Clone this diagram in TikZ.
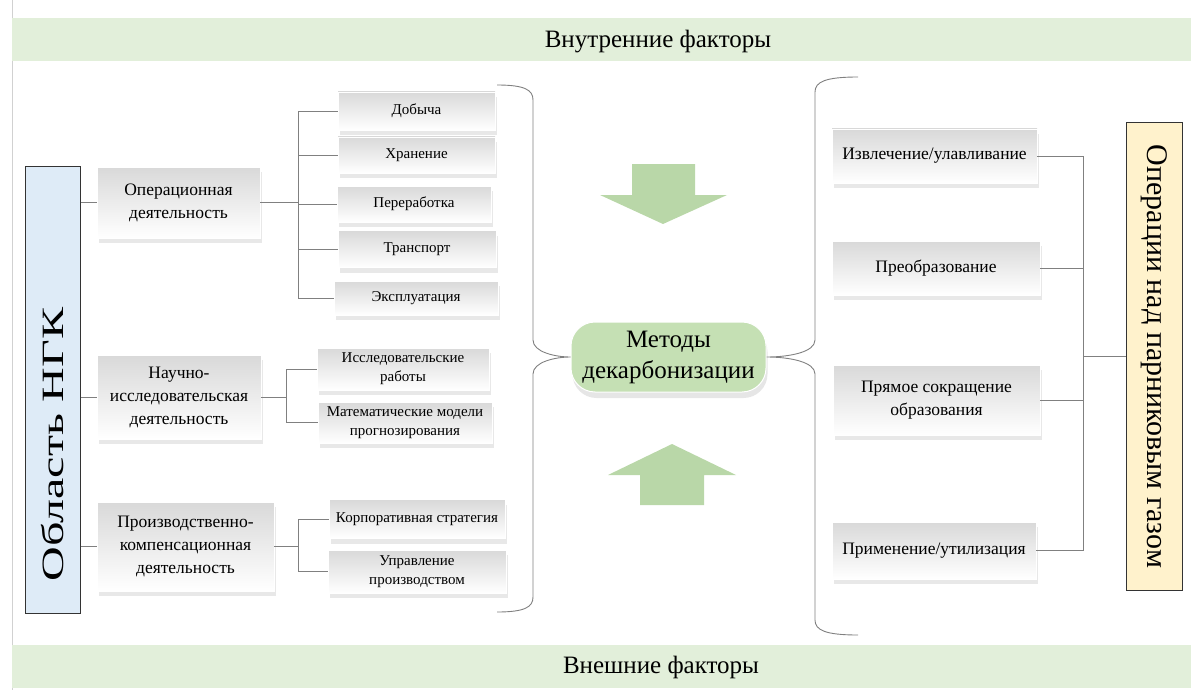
\documentclass[tikz,border=0pt]{standalone}
\usepackage{fontspec}
\setmainfont{Liberation Serif}
\usepackage{tikz}
\usetikzlibrary{shadows}
\definecolor{bandgreen}{HTML}{E2EFDA}
\definecolor{methgreen}{HTML}{C5E0B4}
\definecolor{arrgreen}{HTML}{B9D7A8}
\definecolor{areablue}{HTML}{DEEBF7}
\definecolor{gasyellow}{HTML}{FFF2CC}
\definecolor{linegray}{HTML}{808080}

\begin{document}
\begin{tikzpicture}[x=1pt, y=-1pt,
    box/.style={top color=black!15, bottom color=white, draw=white, line width=0.8pt,
        drop shadow={opacity=0.18, shadow xshift=1.5pt, shadow yshift=-5pt},
        align=center, inner sep=2pt},
    leaf/.style={box, font=\fontsize{15}{19}\selectfont},
    mid/.style={box, font=\fontsize{17.5}{23}\selectfont},
    side/.style={draw=black!80, line width=1pt, inner sep=0pt},
    link/.style={draw=linegray, line width=0.8pt},
    elbow/.style={to path={|- (\tikztotarget)}}]
    \useasboundingbox (0,0) rectangle (1191,690);

    % frame and bands
    \draw[black!18, line width=1pt] (12,0) -- (12,690);
    \fill[bandgreen] (12,18) rectangle (1191,61);
    \fill[bandgreen] (12,645) rectangle (1191,688);
    \node[font=\fontsize{25}{30}\selectfont] (top) at (658,42) {Внутренние факторы};
    \node[font=\fontsize{25}{30}\selectfont] (bot) at (661,667) {Внешние факторы};

    % left side
    \node[side, fill=areablue, minimum width=55pt, minimum height=447pt] (a) at (52.5,389.5) {};
    \node[rotate=90, font=\fontsize{31}{36}\selectfont] (at) at ([yshift=-55pt]a.center) {\scalebox{1.55}[1]{Область НГК}};

    \node[mid, minimum width=163pt, minimum height=71pt] (b0) at (178.5,202.5) {Операционная\\деятельность};
    \node[mid, minimum width=164pt, minimum height=84pt] (b1) at (179,397) {Научно-\\исследовательская\\деятельность};
    \node[mid, minimum width=177pt, minimum height=89pt] (b2) at (185.5,546.5) {Производственно-\\компенсационная\\деятельность};

    \node[leaf, minimum width=157pt, minimum height=38pt] (c0) at (416.5,111) {Добыча};
    \node[leaf, minimum width=157pt, minimum height=36pt] (c1) at (416.5,155) {Хранение};
    \node[leaf, minimum width=154pt, minimum height=36pt] (c2) at (414,204) {Переработка};
    \node[leaf, minimum width=158pt, minimum height=37pt] (c3) at (417,249) {Транспорт};
    \node[leaf, minimum width=164pt, minimum height=34pt] (c4) at (416,298) {Эксплуатация};
    \node[leaf, minimum width=172pt, minimum height=42pt] (c5) at (403,369) {Исследовательские\\работы};
    \node[leaf, minimum width=174pt, minimum height=41pt] (c6) at (405,422.5) {Математические модели\\прогнозирования};
    \node[leaf, minimum width=176pt, minimum height=39pt] (c7) at (417,519) {Корпоративная стратегия};
    \node[leaf, minimum width=178pt, minimum height=43pt] (c8) at (417,571.5) {Управление\\производством};

    \coordinate (k0) at ([xshift=38pt]b0.east);
    \coordinate (k1) at ([xshift=25pt]b1.east);
    \coordinate (k2) at ([xshift=24pt]b2.east);

    \path[link]
    (a.east |- b0.west) edge (b0.west)
    (a.east |- b1.west) edge (b1.west)
    (a.east |- b2.west) edge (b2.west)
    (b0.east) edge (k0)
    (b1.east) edge (k1)
    (b2.east) edge (k2)
    (k0) edge[elbow] (c0.west)
    (k0) edge[elbow] (c1.west)
    (k0) edge[elbow] (c2.west)
    (k0) edge[elbow] (c3.west)
    (k0) edge[elbow] (c4.west)
    (k1) edge[elbow] (c5.west)
    (k1) edge[elbow] (c6.west)
    (k2) edge[elbow] (c7.west)
    (k2) edge[elbow] (c8.west);

    % centre
    \node[fill=methgreen, draw=white, line width=1pt, rounded corners=24pt,
        minimum width=195pt, minimum height=70pt, align=center,
        drop shadow={opacity=0.2, shadow xshift=1.5pt, shadow yshift=-6pt},
        font=\fontsize{25}{31}\selectfont] (m) at (668.5,357) {Методы\\декарбонизации};

    \fill[arrgreen] (632,164) -- (695,164) -- (695,195) -- (727,195) -- (663,224) -- (600,195) -- (632,195) -- cycle;
    \fill[arrgreen] (640,505) -- (704,505) -- (704,475) -- (736,475) -- (672,444) -- (608,475) -- (640,475) -- cycle;

    \draw[link, line width=0.9pt] (497,85) .. controls (525,85) and (533,90) .. (533,100) -- (533,340)
        .. controls (533,352) and (555,357) .. (m.west) .. controls (555,357) and (533,362) .. (533,374)
        -- (533,597) .. controls (533,607) and (525,612) .. (497,612);
    \draw[link, line width=0.9pt] (858,77) .. controls (825,77) and (815,82) .. (815,92) -- (815,340)
        .. controls (815,352) and (790,357) .. (m.east) .. controls (790,357) and (815,362) .. (815,374)
        -- (815,620) .. controls (815,630) and (825,635) .. (858,635);

    % right side
    \node[mid, minimum width=205pt, minimum height=54pt] (r0) at (934.5,156) {Извлечение/улавливание};
    \node[mid, minimum width=208pt, minimum height=54pt] (r1) at (936,268) {Преобразование};
    \node[mid, minimum width=207pt, minimum height=70pt] (r2) at (936.5,400) {Прямое сокращение\\образования};
    \node[mid, minimum width=204pt, minimum height=57pt] (r3) at (934,550.5) {Применение/утилизация};

    \node[side, fill=gasyellow, minimum width=56pt, minimum height=467pt,
        font=\fontsize{30}{34}\selectfont] (g) at (1154,356.5) {\rotatebox{-90}{Операции над парниковым газом}};

    \coordinate (k3) at ([xshift=-42pt]g.west);
    \path[link]
    (g.west) edge (k3)
    (k3) edge[elbow] (r0.east)
    (k3) edge[elbow] (r1.east)
    (k3) edge[elbow] (r2.east)
    (k3) edge[elbow] (r3.east);
\end{tikzpicture}
\end{document}
